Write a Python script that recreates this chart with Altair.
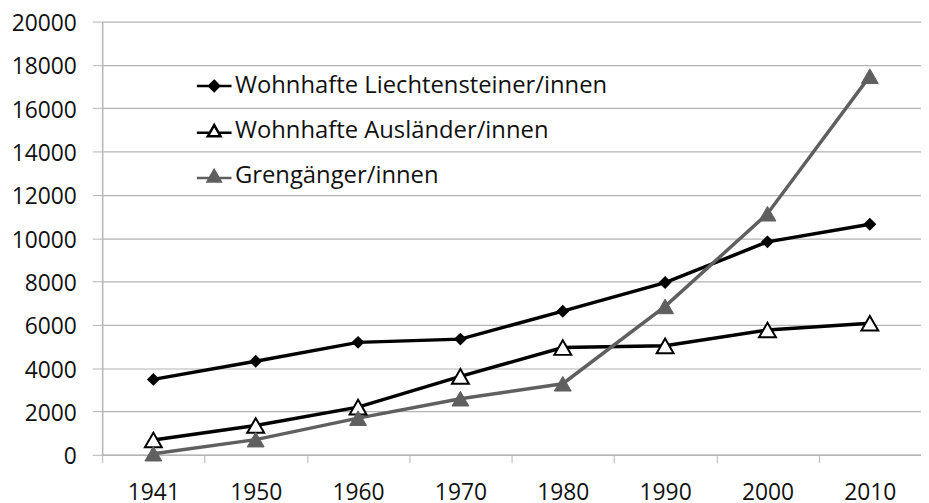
import altair as alt
import pandas as pd

years = ["1941", "1950", "1960", "1970", "1980", "1990", "2000", "2010"]
liecht = [3480, 4320, 5190, 5340, 6630, 7950, 9830, 10640]
ausl = [680, 1350, 2200, 3620, 4950, 5030, 5760, 6070]
grenz = [50, 700, 1690, 2590, 3280, 6850, 11130, 17480]
series = ["Wohnhafte Liechtensteiner/innen", "Wohnhafte Ausländer/innen", "Grengänger/innen"]
y_ticks = [0, 2000, 4000, 6000, 8000, 10000, 12000, 14000, 16000, 18000, 20000]

line_colors = ["#000000", "#000000", "#5f5f5f"]
fill_colors = ["#000000", "#ffffff", "#5f5f5f"]
stroke_colors = ["#000000", "#000000", "#5f5f5f"]
legend_paths = [
    "M-1,0H1M0,-0.29L0.29,0L0,0.29L-0.29,0Z",
    "M-1,0.1H-0.3M0.3,0.1H1M-0.37,0.3L0,-0.35L0.37,0.3Z",
    "M-1,0.1H-0.3M0.3,0.1H1M-0.37,0.3L0,-0.35L0.37,0.3Z",
]

rows = []
for name, vals in zip(series, [liecht, ausl, grenz]):
    for yr, v in zip(years, vals):
        rows.append({"year": yr, "value": v, "series": name})
df = pd.DataFrame(rows)

FONT = "Open Sans"
GRID = "#b4b4b4"
TXT = "#111111"

x_enc = alt.X(
    "year:N",
    sort=years,
    bandPosition=0.5,
    scale=alt.Scale(type="band", paddingInner=0, paddingOuter=0),
    axis=alt.Axis(
        title=None,
        labelAngle=0,
        labelFont=FONT,
        labelFontSize=23,
        labelColor=TXT,
        labelPadding=19,
        tickBand="extent",
        tickColor=GRID,
        tickSize=8,
        domainColor=GRID,
        domainWidth=1.5,
        grid=False,
    ),
)
y_enc = alt.Y(
    "value:Q",
    scale=alt.Scale(domain=[0, 20000], nice=False),
    axis=alt.Axis(
        title=None,
        values=y_ticks,
        format="d",
        labelFont=FONT,
        labelFontSize=23,
        labelColor=TXT,
        labelPadding=16,
        labelOffset=2,
        tickColor=GRID,
        tickSize=10,
        domainColor=GRID,
        domainWidth=1.5,
        gridColor=GRID,
        gridWidth=1.2,
    ),
)

base = alt.Chart(df)

lines = base.mark_line(strokeWidth=3.5).encode(
    x=x_enc,
    y=y_enc,
    color=alt.Color("series:N", scale=alt.Scale(domain=series, range=line_colors), legend=None),
    detail="series:N",
)

pts_l = base.transform_filter(alt.datum.series == series[0]).mark_point(
    shape="diamond", filled=True, color="#000000", size=170, opacity=1
).encode(x=x_enc, y=y_enc)
pts_a = base.transform_filter(alt.datum.series == series[1]).mark_point(
    shape="triangle-up", filled=True, fill="#ffffff", stroke="#000000", strokeWidth=2, size=290, opacity=1
).encode(x=x_enc, y=y_enc)
pts_g = base.transform_filter(alt.datum.series == series[2]).mark_point(
    shape="triangle-up", filled=True, fill="#5f5f5f", stroke="#5f5f5f", strokeWidth=1, size=290, opacity=1
).encode(x=x_enc, y=y_enc)

leg = alt.Legend(
    title=None,
    orient="none",
    legendX=94,
    legendY=46,
    labelFont=FONT,
    labelFontSize=24,
    labelColor=TXT,
    labelLimit=0,
    symbolSize=1225,
    symbolStrokeWidth=2.5,
    rowPadding=14.5,
    labelOffset=2,
    padding=0,
)

legend_layer = base.mark_point(filled=True, opacity=1, size=0).encode(
    x=x_enc,
    y=y_enc,
    shape=alt.Shape("series:N", scale=alt.Scale(domain=series, range=legend_paths), legend=leg),
    fill=alt.Fill("series:N", scale=alt.Scale(domain=series, range=fill_colors)),
    stroke=alt.Stroke("series:N", scale=alt.Scale(domain=series, range=stroke_colors)),
)

chart = (
    alt.layer(legend_layer, lines, pts_l, pts_a, pts_g)
    .properties(
        width=826,
        height=437,
        autosize=alt.AutoSizeParams(type="none"),
        padding={"left": 95, "top": 11.5, "right": 0, "bottom": 52},
        background="#ffffff",
    )
    .configure_view(stroke=None)
)

chart.save("out.html", embed_options={"renderer": "svg", "actions": False})
